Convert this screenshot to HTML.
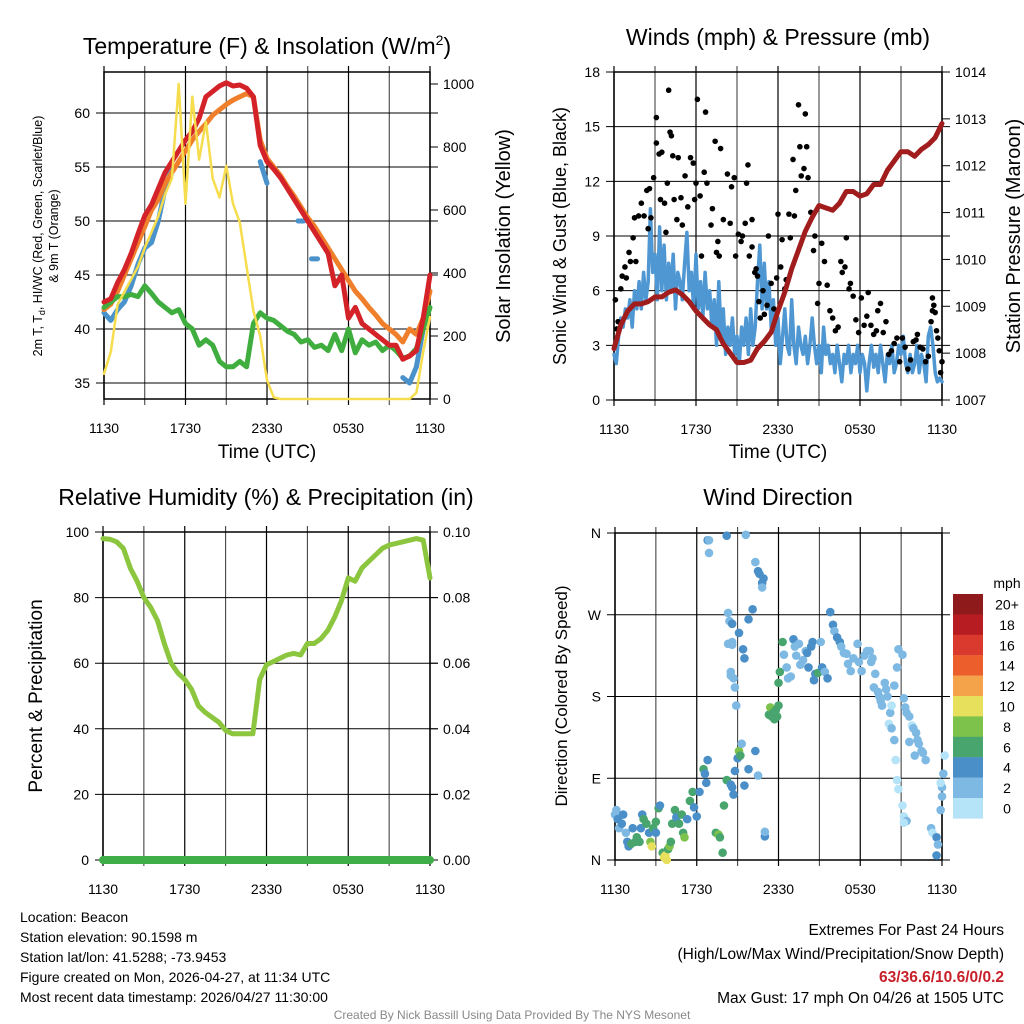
<!DOCTYPE html>
<html><head><meta charset="utf-8"><style>
html,body{margin:0;padding:0;background:#fff;}
svg{display:block;font-family:"Liberation Sans",Arial,sans-serif;}
</style></head><body>
<svg id="chart" width="1024" height="1024" viewBox="0 0 1024 1024" xmlns="http://www.w3.org/2000/svg">
<rect width="1024" height="1024" fill="#fff"/>
<g id="layer"></g>
<text x="267" y="54" font-size="23" text-anchor="middle">Temperature (F) &amp; Insolation (W/m<tspan dy="-9" font-size="14">2</tspan><tspan dy="9">)</tspan></text>
<text x="778" y="45" font-size="23" text-anchor="middle">Winds (mph) &amp; Pressure (mb)</text>
<text x="266" y="505" font-size="23" text-anchor="middle">Relative Humidity (%) &amp; Precipitation (in)</text>
<text x="778" y="505" font-size="23" text-anchor="middle">Wind Direction</text>
<text x="267" y="458" font-size="19" text-anchor="middle">Time (UTC)</text>
<text x="778" y="458" font-size="19" text-anchor="middle">Time (UTC)</text>
<text transform="translate(42,236) rotate(-90)" font-size="12.5" text-anchor="middle">2m T, T<tspan dy="3" font-size="9">d</tspan><tspan dy="-3">, HI/WC (Red, Green, Scarlet/Blue)</tspan></text>
<text transform="translate(58,236) rotate(-90)" font-size="12.5" text-anchor="middle">&amp; 9m T (Orange)</text>
<text transform="translate(510,236) rotate(-90)" font-size="20" text-anchor="middle">Solar Insolation (Yellow)</text>
<text transform="translate(566,236) rotate(-90)" font-size="18" text-anchor="middle">Sonic Wind &amp; Gust (Blue, Black)</text>
<text transform="translate(1020,236) rotate(-90)" font-size="20" text-anchor="middle">Station Pressure (Maroon)</text>
<text transform="translate(42,696) rotate(-90)" font-size="19" text-anchor="middle">Percent &amp; Precipitation</text>
<text transform="translate(567,696) rotate(-90)" font-size="17" text-anchor="middle">Direction (Colored By Speed)</text>
<g font-size="14">
<text x="20" y="922">Location: Beacon</text>
<text x="20" y="942">Station elevation: 90.1598 m</text>
<text x="20" y="962">Station lat/lon: 41.5288; -73.9453</text>
<text x="20" y="982">Figure created on Mon, 2026-04-27, at 11:34 UTC</text>
<text x="20" y="1002">Most recent data timestamp: 2026/04/27 11:30:00</text>
</g>
<g font-size="15.5" text-anchor="end">
<text x="1004" y="935">Extremes For Past 24 Hours</text>
<text x="1004" y="959">(High/Low/Max Wind/Precipitation/Snow Depth)</text>
<text x="1004" y="982" fill="#c8202a" font-weight="bold">63/36.6/10.6/0/0.2</text>
<text x="1004" y="1003">Max Gust: 17 mph On 04/26 at 1505 UTC</text>
</g>
<text x="512" y="1019" font-size="12" fill="#888" text-anchor="middle">Created By Nick Bassill Using Data Provided By The NYS Mesonet</text>
</svg>
<script>
const timeLabels = ["1130","1730","2330","0530","1130"];
const tempTicks = [35,40,45,50,55,60];
const solarTicks = [0,200,400,600,800,1000];
const windTicks = [0,3,6,9,12,15,18];
const presTicks = [1007,1008,1009,1010,1011,1012,1013,1014];
const rhTicks = [0,20,40,60,80,100];
const precipTicks = ["0.00","0.02","0.04","0.06","0.08","0.10"];
const dirLabels = ["N","E","S","W","N"];
const speedLabels = ["20+","18","16","14","12","10","8","6","4","2","0"];
const speedColors = ["#8e1a1c","#b71c23","#d93a2d","#ec5e2b","#f5a34b","#e7e05c","#7dc24b","#48a56e","#4a8fc8","#7db9e3","#b5e3f8"];
// half-hourly series (hour 0 = 1130 UTC)
const tempRed = [42.5,42.8,44.3,45.5,47,48.8,50.5,51.5,53,54.5,55.5,56.5,57.5,58.3,59.5,61.5,62,62.5,62.8,62.5,62.6,62.3,61.5,57,55.5,54.8,54,53,52,51,50,49,48,47,44,45,41,42,40.5,40,39.5,39,38.5,38.5,37.2,37.5,38,41,45];
const temp9m = [41.8,42.3,43.5,45,46.5,48,49.5,51,52,53.5,54.5,55.5,56.5,57.5,58.3,59,59.8,60.3,60.8,61.2,61.5,61.8,61.5,57.5,55.8,55,54.2,53.2,52.3,51.3,50.3,49.5,48.5,47.5,46.5,45.5,44.5,43.5,42.8,42,41.3,40.5,40,39.5,38.8,40,39.5,41,43.5];
const dewpt = [42,42.5,43,43,43.2,43,44,43.3,42.5,42,41.5,41.8,40.5,40,38.5,39,38.5,37,36.5,36.5,37,36.5,40.5,41.5,41,40.8,40.3,39.8,39.5,38.8,39,38.3,38.5,38,39.5,38,40,37.8,39,38.5,38.8,38,38.5,38,37.3,37.5,38.2,40,42];
const windChill = [41.5,40.8,41.8,42.5,44,46,47.5,48,50,53,55,null,null,null,null,null,null,null,null,null,null,null,null,55.5,53.5,null,null,null,null,50,null,46.5,null,null,null,null,null,null,null,null,null,null,null,null,35.5,35,36.5,40,null];
const solar = [80,150,300,340,380,420,480,530,580,650,700,1000,620,960,760,880,700,640,740,620,560,420,280,200,60,5,0,0,0,0,0,0,0,0,0,0,0,0,0,0,0,0,0,0,0,0,20,150,260];
const pressure = [1008.1,1008.6,1008.9,1009.05,1009.05,1009.1,1009.2,1009.2,1009.3,1009.35,1009.25,1009.1,1008.9,1008.75,1008.6,1008.5,1008.2,1008.0,1007.8,1007.8,1007.85,1008.1,1008.25,1008.45,1008.9,1009.3,1009.8,1010.2,1010.6,1010.9,1011.15,1011.1,1011.05,1011.2,1011.45,1011.45,1011.35,1011.4,1011.6,1011.6,1011.9,1012.1,1012.3,1012.3,1012.2,1012.35,1012.45,1012.6,1012.9];
const rh = [98,97.8,97,95,89,85,80,77,73,66,60,57,55,52,47,45,43.5,42,39.5,38.5,38.5,38.5,38.5,55,59.5,60.5,61.5,62.5,63,62.5,66,66,67.5,70,74,79,86,85,89,91,93,95,96,96.5,97,97.5,98,97.5,86];
const precip = [0,0,0,0,0,0,0,0,0,0,0,0,0,0,0,0,0,0,0,0,0,0,0,0,0,0,0,0,0,0,0,0,0,0,0,0,0,0,0,0,0,0,0,0,0,0,0,0,0];
// 10-minute sustained wind
const windSpd = [2.5,2,3.5,4.5,4,5, 4.5,5.5,4,6,5,6.5, 5,7,5.5,6.5,10.5,7, 8,5.5,9.5,6,8.5,5.5, 7.5,6,8,5,7,6.5, 5.5,7.5,9.2,6,7,5, 8,5,6.5,4.5,7,5, 6,4,5.5,3,6.5,3.5, 5,2.5,4,3,4.5,2.5, 3.5,2,4,3,4.5,2.5, 5,3,4,6.5,8.5,5, 7.5,5,6.5,4,5.5,3, 4.5,2,3.5,5,3,2.5, 5.5,3,2,4,3,2.5, 3.5,2,3,4.5,3,2, 3,1.5,4,2.5,3,2, 2.5,1.5,3,2,1,2.5, 2,3,1.5,2.5,2,3, 1.5,2.5,2,0.5,2,3, 1.8,2.5,1.5,3,2,1, 2.5,2,3,1.5,2,3, 2.5,3.5,2,1.5,2.5,1.5, 2,3,1.5,2.5,2,1, 3.5,4,3,1.5,1,1.2, 1];
const gustHours = [0.1,0.2,0.3,0.5,0.6,0.8,0.9,1.1,1.2,1.4,1.5,1.6,1.8,2,2.2,2.4,2.5,2.6,2.7,2.9,3.1,3.1,3.3,3.4,3.5,3.7,3.8,3.9,4,4.1,4.2,4.3,4.4,4.6,4.7,4.9,5,5.2,5.4,5.6,5.8,5.9,6,6.1,6.3,6.4,6.6,6.7,6.8,7.1,7.2,7.4,7.5,7.6,7.7,7.8,8,8.3,8.5,8.6,8.8,8.9,9.1,9.3,9.4,9.6,9.7,9.8,9.9,10.1,10.1,10.3,10.4,10.5,10.6,10.7,10.9,11,11.2,11.3,11.5,11.7,11.9,12,12.2,12.3,12.5,12.6,12.8,12.9,13.1,13.2,13.3,13.5,13.6,13.7,13.9,14,14.1,14.2,14.4,14.6,14.7,14.9,15,15.2,15.4,15.6,15.8,16,16.2,16.4,16.6,16.7,16.9,17,17.2,17.3,17.5,17.7,17.9,18.1,18.3,18.5,18.6,18.8,19,19.2,19.3,19.5,19.7,19.9,20.1,20.3,20.5,20.7,20.9,21.1,21.3,21.5,21.7,21.9,22.1,22.2,22.4,22.6,22.8,23,23.2,23.3,23.3,23.4,23.5,23.6,23.7,23.8,23.9,24];
const gustVals = [5.5,3.9,4.3,6.1,6.8,7.3,6.7,8.1,7.6,8.9,10,7.6,10.1,10.8,10.1,11.5,9.4,11.6,10,12.2,15.5,14.1,13.5,11,13.6,10.8,9.2,11.9,17,14.7,14.5,13.4,11,9.9,13.3,11.1,9.6,12.3,10.6,13.3,13,11,11.9,16.5,11.2,7.9,12.5,15.8,11.9,9.6,10.5,14.2,8.1,8.7,7.9,13.8,9.9,12.4,9.7,11.7,12.2,7.9,9.1,8.7,9,9.7,11.9,12.9,7.9,9.9,8.4,7,7.2,6.8,5.4,4.5,6,4.7,5.2,9,6.4,5,6.7,10.2,7.3,8.8,6.1,6.6,10.2,8.9,13.2,10.1,11.5,16.2,13.9,12.3,12.7,15.7,13.9,12.2,10.3,8.2,9,5.3,6.4,8.6,7.6,6.3,4.9,4.5,3.8,4,7.6,7,7.3,8.9,6.1,6.4,5.7,4.4,3.7,5.6,4.1,4.6,5.9,4.1,3.6,3.8,4.9,5.3,3.7,4.3,2.5,2.7,3.1,3.4,2.1,3.4,2.9,1.7,2.2,3.2,3.3,3.6,2.9,2.8,2.1,2.4,4.3,4.9,5.6,5.2,4.8,3.8,3.4,2.7,1.5,2.1];
const dirHours = [0,0.1,0.2,0.3,0.5,0.6,0.8,0.9,1,1.2,1.3,1.5,1.6,1.8,1.9,2,2.1,2.3,2.5,2.6,2.7,2.8,3,3,3.2,3.3,3.5,3.6,3.7,3.8,3.9,4,4.1,4.2,4.4,4.5,4.7,4.9,5,5.1,5.3,5.5,5.7,5.8,6,6.2,6.5,6.6,6.7,6.8,7.4,7.6,7.7,7.9,8,8.2,8.5,8.6,8.7,8.8,9,9.1,9.2,9.3,9.5,9.8,10.5,10.3,6.8,6.9,6.9,8.2,9.6,10.3,10.5,10.6,10.8,10.8,10.9,10.1,8.3,8.4,8.6,8.6,8.6,8.3,8.5,8.5,8.7,8.8,8.9,9.1,9.4,9.5,9.8,11,11,11.3,11.4,11.5,11.6,11.7,11.8,11.9,12,12,12.1,12.3,12.4,12.6,12.7,12.9,13.1,13.2,13.3,13.5,13.6,13.8,14,14.1,14.2,14.4,14.5,14.6,14.7,14.9,15.1,15.2,15.4,15.6,15.8,16,16.1,16.3,16.5,16.6,16.8,17,17.1,17.3,17.5,17.8,17.9,18.1,18.3,18.5,18.7,18.8,18.9,19.1,19,19.3,19.4,19.5,19.6,19.8,19.9,20,20.2,20.1,20.3,20.5,20.6,20.7,20.8,20.3,20.5,20.7,20.8,21.1,21.2,21.3,21.4,21.6,21.6,21.8,21.9,22.1,22,22.2,22.3,22.5,22.6,22.8,23.2,23.3,23.6,23.7,23.6,23.9,24,24,23.9,24.1,24.2,21.1,21.2,21.4,21.2];
const dirDeg = [50,55,45,35,40,50,30,20,15,18,35,20,25,20,35,50,45,40,30,20,15,35,30,42,57,60,8,3,5,0,12,15,20,40,55,47,40,50,30,25,45,65,75,58,48,75,100,95,85,110,30,28,25,8,60,88,83,80,72,98,112,120,115,128,82,100,93,120,352,352,338,357,358,328,318,315,305,300,310,276,272,263,260,240,237,238,207,203,200,190,170,250,232,222,265,26,31,160,168,158,162,155,165,158,170,195,207,240,226,212,200,202,243,235,225,238,215,220,230,228,212,235,240,198,205,206,240,212,207,200,273,259,252,245,240,235,228,227,216,208,222,238,218,208,225,230,230,218,222,205,190,185,180,175,170,195,188,180,162,150,145,132,110,88,78,170,192,212,232,226,178,168,162,158,130,148,145,140,115,132,128,120,118,110,35,30,25,17,5,55,70,80,85,95,115,60,48,43,41];
const dirSpd = [3,3,4,3,4,4,3,4,5,7,4,6,7,7,5,5,6,6,5,9,10,7,5,6,6,4,7,10,10,10,7,8,7,6,6,4,6,7,7,8,5,6,6,4,4,4,6,4,4,4,7,8,7,7,7,7,5,4,4,4,4,8,7,2,4,5,2,5,4,3,2,4,2,2,4,4,4,3,4,4,2,3,4,3,3,2,3,2,3,3,2,4,4,4,4,4,2,7,8,6,6,7,6,6,6,6,6,6,2,3,3,3,4,2,3,3,3,3,3,4,5,5,4,5,4,6,3,4,3,4,5,4,3,5,4,3,3,3,3,3,3,3,2,3,2,3,3,3,3,3,3,2,3,2,2,2,3,3,2,1,3,3,1,1,1,1,3,3,3,3,2,3,3,3,3,1,3,3,3,3,3,3,3,3,3,1,4,3,4,2,2,2,1,2,1,1,1,2,1,3];

const NS='http://www.w3.org/2000/svg';
const layer=document.getElementById('layer');
function mk(tag,attrs,parent){const e=document.createElementNS(NS,tag);for(const k in attrs)e.setAttribute(k,attrs[k]);(parent||layer).appendChild(e);return e;}
function speedColor(s){let i=Math.min(10,Math.floor(s/2));return speedColors[10-i];}

const panes={
 temp:{x0:104,x1:430,y0:72,y1:399},
 wind:{x0:614,x1:942,y0:72,y1:400},
 rh:{x0:103,x1:430,y0:532,y1:860},
 dir:{x0:615,x1:942,y0:533,y1:860}
};
function xs(p,h){return p.x0+(p.x1-p.x0)*h/24;}
function lin(p,v,a,b){return p.y1-(v-a)/(b-a)*(p.y1-p.y0);}
const yT=(v)=>lin({y0:72,y1:399},v,33.52,63.8);
const ySol=(v)=>399-v*0.315;
const yW=(v)=>lin(panes.wind,v,0,18);
const yP=(v)=>lin(panes.wind,v,1007,1014);
const yRH=(v)=>lin(panes.rh,v,0,100);
const yPr=(v)=>lin(panes.rh,v,0,0.1);
const yD=(v)=>lin(panes.dir,v,0,360);

function frame(p,name,hgrid,leftLabels,rightTicks,rightLabels){
 const g=mk('g',{});
 
 
 for(let i=0;i<=8;i++){const x=xs(p,i*3);mk('line',{x1:x,x2:x,y1:p.y0-6,y2:p.y1+6,stroke:(i%2==0)?'#000':'#333','stroke-width':(i%2==0)?1.2:1},g);}
 hgrid.forEach((y,i)=>{mk('line',{x1:p.x0-8,x2:p.x1+8,y1:y,y2:y,stroke:'#000','stroke-width':1},g);
   const t=mk('text',{x:p.x0-14,y:y+5,'font-size':14,'text-anchor':'end'},g);t.textContent=leftLabels[i];
   
   });
 rightTicks.forEach((y,i)=>{mk('line',{x1:p.x1,x2:p.x1+8,y1:y,y2:y,stroke:'#000'},g);
   const t=mk('text',{x:p.x1+13,y:y+5,'font-size':14},g);t.textContent=rightLabels[i];
   
   });
 mk('rect',{x:p.x0,y:p.y0,width:p.x1-p.x0,height:p.y1-p.y0,fill:'none',stroke:'#000','stroke-width':1.5},g);
 timeLabels.forEach((l,i)=>{const t=mk('text',{x:xs(p,i*6),y:p.y1+34,'font-size':14,'text-anchor':'middle'},g);t.textContent=l;
   
   });
 return g;
}
function path(arr,yf,p,color,w,name){
 let d='';let pen=false;const n=arr.length;
 for(let i=0;i<n;i++){const v=arr[i];if(v===null||v===undefined){pen=false;continue;}
  const x=xs(p,i*24/(n-1)),y=yf(v);
  const nxt=(i+1<n)?arr[i+1]:null;
  if(!pen&&(nxt===null||nxt===undefined)){d+='M'+(x-3)+' '+y+'L'+(x+3)+' '+y;continue;}
  d+=(pen?'L':'M')+x.toFixed(1)+' '+y.toFixed(1);pen=true;}
 const e=mk('path',{d:d,fill:'none',stroke:color,'stroke-width':w,'stroke-linejoin':'round','stroke-linecap':'round'});
 
 
 return e;
}

// Panel 1
const p1=panes.temp;
frame(p1,'temp',tempTicks.map(yT),tempTicks,solarTicks.map(ySol),solarTicks);
path(windChill,yT,p1,'#4a92cc',5,'windchill-line');
path(temp9m,yT,p1,'#f07f2c',5,'temp-9m-line');
path(dewpt,yT,p1,'#3fae3f',5,'dewpoint-line');
path(tempRed,yT,p1,'#d42229',5,'temp-2m-line');
path(solar,ySol,p1,'#f6dd4e',2.5,'solar-line');

// Panel 2
const p2=panes.wind;
frame(p2,'wind',windTicks.map(yW),windTicks,presTicks.map(yP),presTicks);
path(windSpd,yW,p2,'#4f97d2',3.5,'wind-speed-line');
gustHours.forEach((h,i)=>{const c=mk('circle',{cx:xs(p2,h),cy:yW(gustVals[i]),r:2.8,fill:'#000'});
 
 });
path(pressure,yP,p2,'#a11d1d',5,'pressure-line');

// Panel 3
const p3=panes.rh;
frame(p3,'rh',rhTicks.map(yRH),rhTicks,[0,0.02,0.04,0.06,0.08,0.1].map(yPr),precipTicks);
path(rh,yRH,p3,'#8cc63f',5,'rh-line');
path(precip,yPr,p3,'#3fae49',8,'precip-line');

// Panel 4
const p4=panes.dir;
frame(p4,'dir',[0,90,180,270,360].map(yD),dirLabels,[],[]);
dirHours.forEach((h,i)=>{const c=mk('circle',{cx:xs(p4,h),cy:yD(dirDeg[i]),r:4.3,fill:speedColor(dirSpd[i])});
 
 });
// colorbar
const cb=mk('g',{});


const t0=mk('text',{x:1007,y:588,'font-size':14,'text-anchor':'middle'},cb);t0.textContent='mph';
speedColors.forEach((c,i)=>{const y=594+i*20.4;
 const r=mk('rect',{x:953,y:y,width:30,height:20.6,fill:c},cb);
 
 
 const t=mk('text',{x:1007,y:y+15.5,'font-size':14,'text-anchor':'middle'},cb);t.textContent=speedLabels[i];
 
 });
</script>
</body></html>
